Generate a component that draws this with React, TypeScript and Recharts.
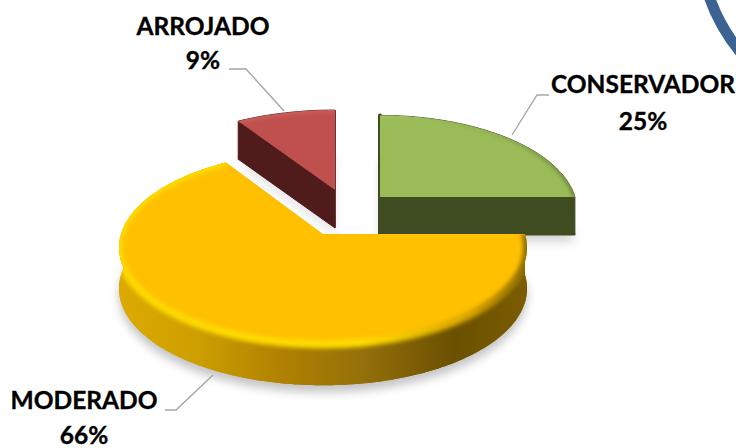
import React from "react";
import { PieChart, Pie } from "recharts";

const categories = ["CONSERVADOR", "MODERADO", "ARROJADO"];
const shares = [25, 66, 9];
const rows = categories.map((name, i) => ({ name, value: shares[i] }));

const W = 736, H = 448;
const CX = 323, CY = 234;
const RX = 202, RY = 93, PERSP = 0.14;

const sliceStyle = [
  { ox: 57, oy: -37, sx: 0.965, sy: 1.0, h: 38, top: "#9BBB59", wall: "#3F4C22", bevel: "url(#bevGreen)", shadow: 0.35 },
  { ox: 0, oy: 0, sx: 1, sy: 1.02, h: 41, top: "#FFC000", wall: "url(#wallGold)", bevel: "url(#bevGold)", shadow: 0.5 },
  { ox: 12, oy: -44, sx: 1, sy: 0.98, h: 38, top: "#C0504D", wall: "#501C1B", bevel: "#cf6a66", shadow: 0.2 },
];

const labelStyle = [
  { x: 643, y1: 93, y2: 130, line: "512,135 537,95 549,95" },
  { x: 84, y1: 409, y2: 444, line: "213,375 176,410 165,410" },
  { x: 203, y1: 35, y2: 69, line: "284,111 246,69 229,69" },
];

function project(a: number, s: any) {
  const dx = Math.cos(a), dy = -Math.sin(a);
  const f = 1 / (1 - PERSP * dy);
  return [RX * s.sx * dx * f, RY * s.sy * dy * f];
}

function sectorShape(props: any) {
  const { cx, cy, startAngle, endAngle, index } = props;
  const s = sliceStyle[index];
  const ax = cx + s.ox, ay = cy + s.oy;
  const n = Math.max(8, Math.round(Math.abs(endAngle - startAngle)));
  const arc: number[][] = [];
  for (let i = 0; i <= n; i++) {
    const d = startAngle + ((endAngle - startAngle) * i) / n;
    const [x, y] = project((d * Math.PI) / 180, s);
    arc.push([ax + x, ay + y]);
  }
  const pts = (list: number[][], dy = 0) => list.map((p) => `${p[0].toFixed(1)},${(p[1] + dy).toFixed(1)}`).join(" L");
  const face = (dy = 0) => `M${ax},${ay + dy} L${pts(arc, dy)} Z`;
  const first = arc[0], last = arc[arc.length - 1];
  const side = (p: number[]) => `M${ax},${ay} L${p[0]},${p[1]} L${p[0]},${p[1] + s.h} L${ax},${ay + s.h} Z`;
  const band = `M${pts(arc)} L${pts([...arc].reverse(), s.h)} Z`;
  const clipId = `faceClip${index}`;
  const sealed = index === 1 ? {} : { stroke: s.wall, strokeWidth: 1, strokeLinejoin: "round" as const };
  return (
    <g>
      <clipPath id={clipId}>
        <path d={face()} />
        <path d={band} />
      </clipPath>
      <path d={face(s.h + 7)} fill="#8a8a8a" opacity={s.shadow} filter="url(#soft)" />
      <path d={face(s.h)} fill={s.wall} {...sealed} />
      <path d={band} fill={s.wall} {...sealed} />
      {index !== 1 && (
        <path d={side(index === 0 ? first : last)} fill={s.wall} stroke={s.wall} strokeWidth={index === 0 ? 4 : 1} strokeLinejoin="round" />
      )}
      <path d={face()} fill={s.top} />
      <g clipPath={`url(#${clipId})`}>
        <path d={`M${pts(arc)}`} fill="none" stroke={s.bevel} strokeWidth={index === 1 ? 8 : 3} filter="url(#bevelBlur)" />
      </g>
    </g>
  );
}

function sliceLabel(props: any) {
  const { index, name, percent } = props;
  const t = labelStyle[index];
  const text = {
    fontFamily: "Lato, 'Open Sans', sans-serif",
    fontWeight: 700,
    fontSize: 24.5,
    fill: "#000",
    stroke: "#000",
    strokeWidth: 0.35,
    textAnchor: "middle" as const,
  };
  return (
    <g>
      <polyline points={t.line} fill="none" stroke="#A6A6A6" strokeWidth={1.4} />
      <text x={t.x} y={t.y1} {...text}>{name}</text>
      <text x={t.x} y={t.y2} {...text}>{`${Math.round(percent * 100)}%`}</text>
    </g>
  );
}

export default function App() {
  return (
    <div style={{ position: "absolute", left: 0, top: 0, width: W, height: H, background: "#fff", overflow: "hidden" }}>
      <PieChart width={W} height={H} margin={{ top: 0, right: 0, bottom: 0, left: 0 }}>
        <defs>
          <filter id="soft" x="-20%" y="-20%" width="140%" height="140%">
            <feGaussianBlur stdDeviation="5" />
          </filter>
          <filter id="bevelBlur" x="-10%" y="-10%" width="120%" height="120%">
            <feGaussianBlur stdDeviation="2" />
          </filter>
          <linearGradient id="wallGold" gradientUnits="userSpaceOnUse" x1="118" x2="527" y1="0" y2="0">
            <stop offset="0" stopColor="#DDAA00" />
            <stop offset="0.2" stopColor="#CC9E00" />
            <stop offset="0.4" stopColor="#B08100" />
            <stop offset="0.6" stopColor="#94700A" />
            <stop offset="0.82" stopColor="#6B5000" />
            <stop offset="1" stopColor="#7A5C00" />
          </linearGradient>
          <linearGradient id="bevGold" gradientUnits="userSpaceOnUse" x1="118" x2="527" y1="0" y2="0">
            <stop offset="0" stopColor="#FFD800" />
            <stop offset="0.6" stopColor="#FFDC00" />
            <stop offset="0.85" stopColor="#D9A500" />
            <stop offset="1" stopColor="#8F6E00" />
          </linearGradient>
          <linearGradient id="bevGreen" gradientUnits="userSpaceOnUse" x1="380" x2="580" y1="0" y2="0">
            <stop offset="0" stopColor="#A9C96A" />
            <stop offset="0.7" stopColor="#7E9A45" />
            <stop offset="1" stopColor="#4F6328" />
          </linearGradient>
        </defs>
        <path d="M709,-4 Q719,26 741,53" fill="none" stroke="#3B6291" strokeWidth={11} />
        <Pie
          data={rows}
          dataKey="value"
          nameKey="name"
          cx={CX}
          cy={CY}
          outerRadius={100}
          startAngle={90}
          endAngle={-270}
          stroke="none"
          shape={sectorShape}
          label={sliceLabel}
          labelLine={false}
          isAnimationActive={false}
        />
      </PieChart>
    </div>
  );
}
